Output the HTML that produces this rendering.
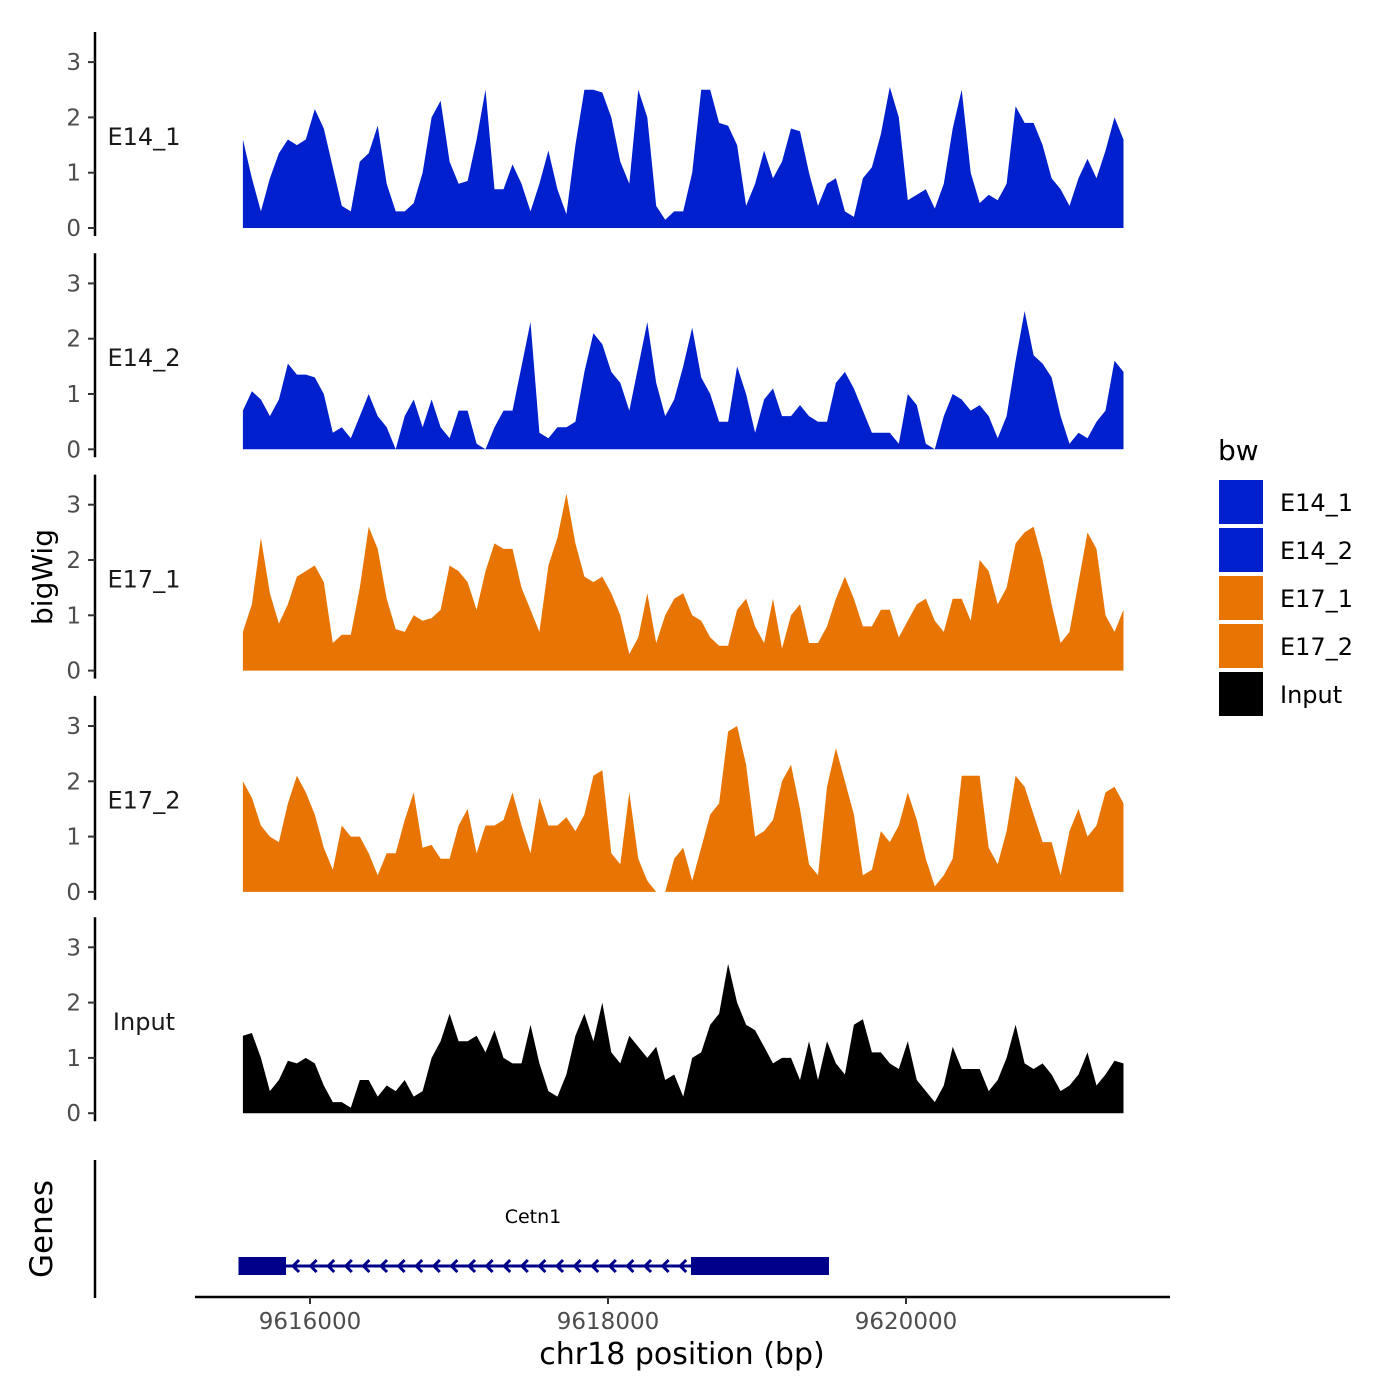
<!DOCTYPE html>
<html><head><meta charset="utf-8"><style>
html,body{margin:0;padding:0;background:#fff;}
svg{display:block;font-family:"DejaVu Sans","Liberation Sans",sans-serif;}
</style></head><body>
<svg id="chart" width="1400" height="1400" viewBox="0 0 1400 1400" xmlns="http://www.w3.org/2000/svg">
<rect width="1400" height="1400" fill="#fff"/>
<g id="tracks"></g>
<g id="genes"></g>
<g id="xaxis"></g>
<text x="52" y="577" font-size="28" text-anchor="middle" transform="rotate(-90 52 577)" fill="#000">bigWig</text>
<text x="52" y="1229" font-size="31" text-anchor="middle" transform="rotate(-90 52 1229)" fill="#000">Genes</text>
<text x="682" y="1364" font-size="30" text-anchor="middle" fill="#000">chr18 position (bp)</text>
<g id="legend">
<text x="1218" y="460" font-size="28" fill="#000">bw</text>
</g>
</svg>
<script>
const trackNames = ["E14_1","E14_2","E17_1","E17_2","Input"];
const trackColors = ["#0020CD","#0020CD","#E87503","#E87503","#000000"];
const binStart = 9615550;
const binStep = 60.3;
const e14_1 = [1.6,0.9,0.3,0.9,1.35,1.6,1.5,1.6,2.15,1.8,1.1,0.4,0.3,1.2,1.35,1.85,0.8,0.3,0.3,0.45,1.0,2.0,2.3,1.2,0.8,0.85,1.6,2.5,0.7,0.7,1.15,0.8,0.3,0.8,1.4,0.7,0.25,1.5,2.5,2.5,2.45,2.0,1.2,0.8,2.5,2.0,0.4,0.15,0.3,0.3,1.0,2.5,2.5,1.9,1.85,1.5,0.4,0.8,1.4,0.9,1.2,1.8,1.75,1.0,0.4,0.8,0.9,0.3,0.2,0.9,1.1,1.7,2.55,2.0,0.5,0.6,0.7,0.35,0.8,1.8,2.5,1.0,0.45,0.6,0.5,0.8,2.2,1.9,1.9,1.5,0.9,0.7,0.4,0.9,1.25,0.9,1.4,2.0,1.6];
const e14_2 = [0.7,1.05,0.9,0.6,0.9,1.55,1.35,1.35,1.3,1.0,0.3,0.4,0.2,0.6,1.0,0.6,0.4,0.0,0.6,0.9,0.4,0.9,0.4,0.2,0.7,0.7,0.1,0.0,0.4,0.7,0.7,1.5,2.3,0.3,0.2,0.4,0.4,0.5,1.4,2.1,1.9,1.4,1.2,0.7,1.5,2.3,1.2,0.6,0.9,1.5,2.2,1.3,1.0,0.5,0.5,1.5,1.0,0.3,0.9,1.1,0.6,0.6,0.8,0.6,0.5,0.5,1.2,1.4,1.1,0.7,0.3,0.3,0.3,0.1,1.0,0.8,0.1,0.0,0.6,1.0,0.9,0.7,0.8,0.6,0.2,0.6,1.6,2.5,1.7,1.55,1.3,0.6,0.1,0.3,0.2,0.5,0.7,1.6,1.4];
const e17_1 = [0.7,1.2,2.4,1.4,0.85,1.2,1.7,1.8,1.9,1.6,0.5,0.65,0.65,1.5,2.6,2.2,1.3,0.75,0.7,1.0,0.9,0.95,1.1,1.9,1.8,1.6,1.1,1.8,2.3,2.2,2.2,1.5,1.1,0.7,1.9,2.4,3.2,2.3,1.7,1.6,1.7,1.4,1.0,0.3,0.6,1.4,0.5,1.0,1.3,1.4,1.0,0.9,0.6,0.45,0.45,1.1,1.3,0.8,0.5,1.3,0.4,1.0,1.2,0.5,0.5,0.8,1.3,1.7,1.3,0.8,0.8,1.1,1.1,0.6,0.9,1.2,1.3,0.9,0.7,1.3,1.3,0.9,2.0,1.8,1.2,1.5,2.3,2.5,2.6,2.0,1.2,0.5,0.7,1.6,2.5,2.2,1.0,0.7,1.1];
const e17_2 = [2.0,1.7,1.2,1.0,0.9,1.6,2.1,1.8,1.4,0.8,0.4,1.2,1.0,1.0,0.7,0.3,0.7,0.7,1.3,1.8,0.8,0.85,0.6,0.6,1.2,1.5,0.7,1.2,1.2,1.3,1.8,1.2,0.7,1.7,1.2,1.2,1.35,1.1,1.4,2.1,2.2,0.7,0.5,1.8,0.6,0.2,0.0,0.0,0.6,0.8,0.2,0.8,1.4,1.6,2.9,3.0,2.3,1.0,1.1,1.3,2.0,2.3,1.5,0.5,0.3,1.9,2.6,2.0,1.4,0.3,0.4,1.1,0.9,1.2,1.8,1.3,0.6,0.1,0.3,0.6,2.1,2.1,2.1,0.8,0.5,1.1,2.1,1.9,1.4,0.9,0.9,0.3,1.1,1.5,1.0,1.2,1.8,1.9,1.6];
const input = [1.4,1.45,1.0,0.4,0.6,0.95,0.9,1.0,0.9,0.5,0.2,0.2,0.1,0.6,0.6,0.3,0.5,0.4,0.6,0.3,0.4,1.0,1.3,1.8,1.3,1.3,1.4,1.1,1.5,1.0,0.9,0.9,1.6,0.9,0.4,0.3,0.7,1.4,1.8,1.3,2.0,1.1,0.9,1.4,1.2,1.0,1.2,0.6,0.7,0.3,1.0,1.1,1.6,1.8,2.7,2.0,1.6,1.5,1.2,0.9,1.0,1.0,0.6,1.3,0.6,1.3,0.9,0.7,1.6,1.7,1.1,1.1,0.9,0.8,1.3,0.6,0.4,0.2,0.5,1.2,0.8,0.8,0.8,0.4,0.6,1.0,1.6,0.9,0.8,0.9,0.7,0.4,0.5,0.7,1.1,0.5,0.7,0.95,0.9];
const yTicks = [0,1,2,3];
const xTicks = [9616000,9618000,9620000];
const geneName = "Cetn1";
const geneStart = 9615520, geneEnd = 9619483;
const exonStarts = [9615520, 9618557];
const exonEnds = [9615839, 9619483];

const NS="http://www.w3.org/2000/svg";
function mk(tag, attrs, parent){const e=document.createElementNS(NS,tag);for(const k in attrs)e.setAttribute(k,attrs[k]);if(parent)parent.appendChild(e);return e;}
const xs = bp => 310 + (bp-9616000)*0.149;
const panelBase = [228,449.3,670.6,891.9,1113.2];
const yUnit = 55.3;
const series = [e14_1,e14_2,e17_1,e17_2,input];
const tracks = document.getElementById('tracks');
series.forEach((vals,t)=>{
  const base = panelBase[t];
  const ys = v => base - v*yUnit;
  const g = mk('g',{},tracks);
  
  
  const ax = mk('line',{x1:95,x2:95,y1:base-196,y2:base+8,stroke:'#000','stroke-width':2.5},g);
  
  
  yTicks.forEach(v=>{
    const tk = mk('line',{x1:88,x2:95,y1:ys(v),y2:ys(v),stroke:'#333','stroke-width':2},g);
    
    
    const tl = mk('text',{x:81,y:ys(v)+8,'font-size':23,'text-anchor':'end',fill:'#4d4d4d'},g);
    tl.textContent = v;
    
    
  });
  const lab = mk('text',{x:144,y:ys(1.65)+8,'font-size':24,'text-anchor':'middle',fill:'#1a1a1a'},g);
  lab.textContent = trackNames[t];
  
  
  let d = 'M'+xs(binStart).toFixed(1)+','+base;
  vals.forEach((v,i)=>{d += ' L'+xs(binStart+i*binStep).toFixed(1)+','+ys(v).toFixed(1);});
  d += ' L'+xs(binStart+(vals.length-1)*binStep).toFixed(1)+','+base+' Z';
  const area = mk('path',{d:d,fill:trackColors[t]},g);
  
  
});

// gene track
const gg = document.getElementById('genes');
const gax = mk('line',{x1:95,x2:95,y1:1160,y2:1298,stroke:'#000','stroke-width':2.5},gg);


const gy = 1266;
const gl = mk('line',{x1:xs(geneStart),x2:xs(geneEnd),y1:gy,y2:gy,stroke:'#00008B','stroke-width':3},gg);


for(let x=xs(exonEnds[0])+7; x<xs(exonStarts[1])-3; x+=17.6){
  const ch = mk('polyline',{points:(x+6)+','+(gy-6)+' '+x+','+gy+' '+(x+6)+','+(gy+6),fill:'none',stroke:'#00008B','stroke-width':3},gg);
  
  
}
exonStarts.forEach((s,i)=>{
  const r = mk('rect',{x:xs(s),y:gy-9,width:xs(exonEnds[i])-xs(s),height:18,fill:'#00008B'},gg);
  
  
});
const gt = mk('text',{x:533,y:1223,'font-size':19,'text-anchor':'middle',fill:'#000'},gg);
gt.textContent = geneName;



// x axis
const xa = document.getElementById('xaxis');
const xl = mk('line',{x1:195,x2:1170,y1:1297,y2:1297,stroke:'#000','stroke-width':2.5},xa);


xTicks.forEach(v=>{
  const tk = mk('line',{x1:xs(v),x2:xs(v),y1:1297,y2:1304,stroke:'#333','stroke-width':2},xa);
  
  
  const tl = mk('text',{x:xs(v),y:1329,'font-size':23,'text-anchor':'middle',fill:'#4d4d4d'},xa);
  tl.textContent = v;
  
  
});

// legend
const lg = document.getElementById('legend');
trackNames.forEach((n,i)=>{
  const y = 480 + i*48;
  const r = mk('rect',{x:1219,y:y,width:44,height:44,fill:trackColors[i]},lg);
  
  
  const t = mk('text',{x:1280,y:y+31,'font-size':24,fill:'#000'},lg);
  t.textContent = n;
  
  
});
</script>
</body></html>
